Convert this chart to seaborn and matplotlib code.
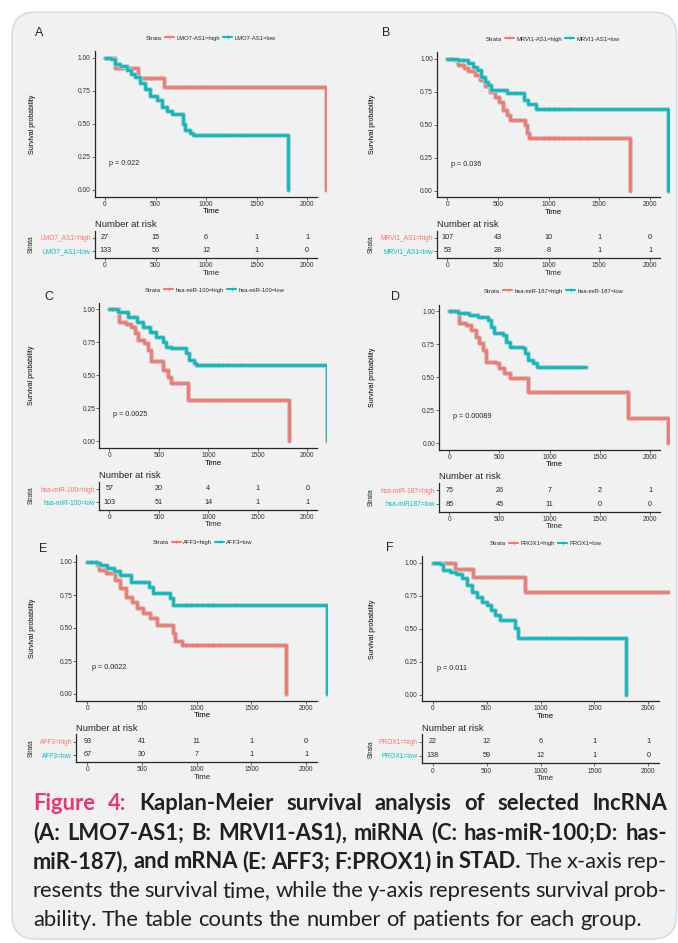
import matplotlib
matplotlib.use("Agg")
import numpy as np
import pandas as pd
import matplotlib.pyplot as plt
import seaborn as sns
from matplotlib.lines import Line2D
from matplotlib.patches import FancyBboxPatch
from matplotlib.transforms import IdentityTransform
import matplotlib.patheffects as pe

# ---- data ----
time_breaks = [0, 500, 1000, 1500, 2000]

# A: LMO7-AS1
a_hi_t = [0, 100, 330, 585, 2190]
a_hi_s = [1.0, 0.92, 0.85, 0.78, 0.0]
a_lo_t = [0, 60, 100, 150, 215, 260, 300, 350, 400, 445, 510, 560, 610, 660, 770, 790, 840, 875, 1810]
a_lo_s = [1.0, 0.99, 0.955, 0.935, 0.91, 0.88, 0.855, 0.81, 0.76, 0.71, 0.68, 0.63, 0.595, 0.575, 0.5, 0.45, 0.43, 0.416, 0.0]
a_hi_cens = [420, 460, 640, 700, 780, 830, 900, 940, 1000, 1040, 1100, 1220]
a_lo_cens = [20, 250, 420, 900, 950, 990, 1020, 1050, 1100, 1150, 1230, 1350]
a_hi_risk = [27, 15, 6, 1, 1]
a_lo_risk = [133, 56, 12, 1, 0]

# B: MRVI1-AS1
b_hi_t = [0, 70, 105, 160, 205, 270, 320, 370, 420, 470, 515, 550, 585, 615, 770, 790, 805, 1800]
b_hi_s = [1.0, 0.99, 0.95, 0.93, 0.91, 0.875, 0.84, 0.79, 0.75, 0.71, 0.675, 0.61, 0.57, 0.535, 0.5, 0.435, 0.397, 0.0]
b_lo_t = [0, 105, 205, 255, 290, 335, 370, 400, 435, 585, 760, 795, 880, 2180]
b_lo_s = [1.0, 0.99, 0.965, 0.94, 0.915, 0.865, 0.825, 0.8, 0.763, 0.738, 0.687, 0.66, 0.62, 0.0]
b_hi_cens = [40, 200, 300, 380, 880, 950, 1000, 1050, 1100, 1150, 1200, 1300, 1380]
b_lo_cens = [40, 150, 350, 680, 720, 950, 1000, 1050, 1100, 1200]
b_hi_risk = [107, 43, 10, 1, 0]
b_lo_risk = [53, 28, 8, 1, 1]

# C: hsa-miR-100
c_hi_t = [0, 100, 170, 220, 255, 290, 355, 390, 425, 540, 590, 625, 790, 1815]
c_hi_s = [1.0, 0.906, 0.89, 0.869, 0.82, 0.77, 0.742, 0.692, 0.605, 0.54, 0.49, 0.44, 0.31, 0.0]
c_lo_t = [0, 90, 190, 275, 340, 410, 475, 540, 575, 625, 775, 810, 860, 880, 2195]
c_lo_s = [1.0, 0.982, 0.944, 0.906, 0.869, 0.831, 0.793, 0.755, 0.717, 0.704, 0.667, 0.616, 0.596, 0.58, 0.0]
c_hi_cens = [30, 480, 960, 1050, 1150, 1200]
c_lo_cens = [30, 250, 430, 900, 940, 980, 1020, 1060, 1100, 1150, 1200, 1330]
c_hi_risk = [57, 20, 4, 1, 0]
c_lo_risk = [103, 51, 14, 1, 1]

# D: hsa-miR-187
d_hi_t = [0, 100, 170, 220, 270, 300, 335, 370, 470, 500, 550, 600, 780, 1785, 2180]
d_hi_s = [1.0, 0.909, 0.896, 0.858, 0.807, 0.757, 0.706, 0.617, 0.604, 0.568, 0.528, 0.49, 0.385, 0.193, 0.0]
d_lo_t = [0, 85, 200, 285, 385, 420, 450, 535, 570, 600, 735, 757, 785, 835, 870, 1360]
d_lo_s = [1.0, 0.985, 0.972, 0.959, 0.934, 0.883, 0.833, 0.82, 0.77, 0.731, 0.718, 0.68, 0.63, 0.605, 0.577, 0.577]
d_hi_cens = [30, 470, 660, 960, 1020, 1080, 1150, 1200]
d_lo_cens = [20, 60, 150, 330, 900, 950, 1000, 1050, 1100, 1150, 1200, 1250, 1300]
d_hi_risk = [75, 26, 7, 2, 1]
d_lo_risk = [85, 45, 11, 0, 0]

# E: AFF3
e_hi_t = [0, 85, 107, 175, 250, 300, 355, 405, 450, 510, 570, 635, 785, 800, 870, 1815]
e_hi_s = [1.0, 0.98, 0.94, 0.914, 0.864, 0.8, 0.737, 0.7, 0.649, 0.611, 0.573, 0.523, 0.46, 0.4, 0.371, 0.0]
e_lo_t = [0, 85, 120, 180, 240, 300, 400, 560, 605, 760, 785, 2190]
e_lo_s = [1.0, 0.99, 0.977, 0.955, 0.93, 0.905, 0.851, 0.813, 0.763, 0.725, 0.674, 0.0]
e_hi_cens = [180, 420, 470, 620, 710, 900, 960, 1000, 1050, 1100, 1150, 1200]
e_lo_cens = [30, 80, 450, 520, 610, 900, 950, 1000, 1050, 1100, 1150, 1350]
e_hi_risk = [93, 41, 11, 1, 0]
e_lo_risk = [67, 30, 7, 1, 1]

# F: PROX1
f_hi_t = [0, 205, 375, 860, 2190]
f_hi_s = [1.0, 0.952, 0.896, 0.782, 0.782]
f_lo_t = [0, 70, 100, 160, 220, 270, 315, 360, 410, 455, 500, 545, 580, 625, 765, 795, 1795]
f_lo_s = [1.0, 0.99, 0.947, 0.934, 0.914, 0.884, 0.833, 0.782, 0.744, 0.706, 0.681, 0.643, 0.605, 0.567, 0.504, 0.433, 0.0]
f_hi_cens = [350, 500, 630, 760, 950, 1000, 1070, 1180]
f_lo_cens = [20, 50, 250, 950, 1000, 1050, 1100, 1150, 1200, 1380]
f_hi_risk = [22, 12, 6, 1, 1]
f_lo_risk = [138, 59, 12, 1, 0]

legend_labels = [("LMO7-AS1=high", "LMO7-AS1=low"), ("MRVI1-AS1=high", "MRVI1-AS1=low"),
                 ("hsa-miR-100=high", "hsa-miR-100=low"), ("hsa-miR-187=high", "hsa-miR-187=low"),
                 ("AFF3=high", "AFF3=low"), ("PROX1=high", "PROX1=low")]
table_labels = [("LMO7_AS1=high", "LMO7_AS1=low"), ("MRVI1_AS1=high", "MRVI1_AS1=low"),
                ("hsa-miR-100=high", "hsa-miR-100=low"), ("hsa-miR-187=high", "hsa-miR187=low"),
                ("AFF3=high", "AFF3=low"), ("PROX1=high", "PROX1=low")]
p_values = ["0.022", "0.036", "0.0025", "0.00089", "0.0022", "0.011"]
letters = ["A", "B", "C", "D", "E", "F"]

caption_runs = [
    [("Figure 4:", "pink"), ("Kaplan-Meier survival analysis of selected lncRNA", "bold")],
    [("(A: LMO7-AS1; B: MRVI1-AS1), miRNA (C: has-miR-100;D: has-", "bold")],
    [("miR-187), and mRNA (E: AFF3; F:PROX1) in STAD.", "bold"), ("The x-axis rep-", "regular")],
    [("resents the survival time, while the y-axis represents survival prob-", "regular")],
    [("ability. The table counts the number of patients for each group.", "regular")],
]

# ---- layout (pixels) ----
W, H = 678, 943
RED = "#F8766D"
TEAL = "#00BFC4"
PINK = "#e8386d"
INK = "#231f20"
BG = "#f1f1f1"

# x0: pixel of t=0, k: px per day, y1/y0: pixel of surv 1/0, rh/rl: table rows
geo = [
    dict(x0=105, k=0.101, y1=57.7, y0=190, rh=237.7, rl=250.7, let=(39, 33), leg=(205, 38), ylab=32),
    dict(x0=447.3, k=0.10135, y1=58.7, y0=190.7, rh=237.7, rl=250.7, let=(386, 33), leg=(547, 39), ylab=372),
    dict(x0=109.3, k=0.099, y1=309.3, y0=441.3, rh=489, rl=502.3, let=(49, 297), leg=(209, 290), ylab=32),
    dict(x0=449.3, k=0.10035, y1=311.3, y0=443, rh=490.3, rl=504, let=(396, 297), leg=(548, 291), ylab=372),
    dict(x0=87.3, k=0.1094, y1=562, y0=694, rh=741.7, rl=755, let=(43, 549), leg=(197, 542), ylab=32),
    dict(x0=432.7, k=0.1078, y1=563, y0=694.7, rh=741.7, rl=755.7, let=(390, 548), leg=(540, 543), ylab=372),
]

curves = [
    ((a_hi_t, a_hi_s, a_hi_cens), (a_lo_t, a_lo_s, a_lo_cens), (a_hi_risk, a_lo_risk)),
    ((b_hi_t, b_hi_s, b_hi_cens), (b_lo_t, b_lo_s, b_lo_cens), (b_hi_risk, b_lo_risk)),
    ((c_hi_t, c_hi_s, c_hi_cens), (c_lo_t, c_lo_s, c_lo_cens), (c_hi_risk, c_lo_risk)),
    ((d_hi_t, d_hi_s, d_hi_cens), (d_lo_t, d_lo_s, d_lo_cens), (d_hi_risk, d_lo_risk)),
    ((e_hi_t, e_hi_s, e_hi_cens), (e_lo_t, e_lo_s, e_lo_cens), (e_hi_risk, e_lo_risk)),
    ((f_hi_t, f_hi_s, f_hi_cens), (f_lo_t, f_lo_s, f_lo_cens), (f_hi_risk, f_lo_risk)),
]

sns.set_theme(style="white")
plt.rcParams["font.family"] = ["Liberation Sans", "DejaVu Sans"]
plt.rcParams["axes.linewidth"] = 0.9

fig = plt.figure(figsize=(W / 100, H / 100), dpi=100)
fig.patch.set_facecolor("white")
card = FancyBboxPatch((12, 4), 664.5, H - 16, boxstyle="round,pad=0,rounding_size=24",
                      transform=IdentityTransform(), facecolor=BG, edgecolor="#c6dcea",
                      linewidth=1.0, zorder=-10)
fig.patches.append(card)


def px_axes(left, top, right, bottom):
    return fig.add_axes([left / W, 1 - bottom / H, (right - left) / W, (bottom - top) / H])


def step_at(ts, ss, c):
    i = np.searchsorted(ts, c, side="right") - 1
    return np.asarray(ss)[i]


halo = [pe.Stroke(linewidth=3.4, foreground="#c4c4c4"), pe.Normal()]

for i, g in enumerate(geo):
    hi, lo, risk = curves[i]
    hi_name, lo_name = legend_labels[i]
    left = g["x0"] - 100 * g["k"]
    right = g["x0"] + 2200 * g["k"]
    span = g["y0"] - g["y1"]
    ax = px_axes(left, g["y1"] - 0.05 * span, right, g["y0"] + 0.05 * span)
    ax.set_facecolor("none")

    df = pd.concat([
        pd.DataFrame({"time": hi[0], "surv": hi[1], "group": hi_name}),
        pd.DataFrame({"time": lo[0], "surv": lo[1], "group": lo_name}),
    ])
    sns.lineplot(data=df, x="time", y="surv", hue="group", palette={hi_name: RED, lo_name: TEAL},
                 drawstyle="steps-post", estimator=None, sort=False, legend=False,
                 linewidth=2.0, path_effects=halo, ax=ax)
    for (ts, ss, cens), col in [(hi, RED), (lo, TEAL)]:
        sns.scatterplot(x=cens, y=step_at(ts, ss, cens), marker="+", s=8, color=col,
                        linewidth=0.5, ax=ax, zorder=4)

    ax.set_xlim(-100, 2200)
    ax.set_ylim(-0.05, 1.05)
    ax.set_xticks(time_breaks)
    ax.set_yticks([0, 0.25, 0.5, 0.75, 1.0])
    ax.set_yticklabels(["0.00", "0.25", "0.50", "0.75", "1.00"])
    ax.tick_params(length=2, width=0.5, labelsize=4.8, pad=1, colors="#333333", left=True, bottom=True)
    sns.despine(ax=ax)
    ax.spines["bottom"].set_bounds(-100, 2100)
    ax.set_xlabel("Time", fontsize=5.6, labelpad=0.5, color="black")
    ax.set_ylabel("Survival probability", fontsize=5, color="black")
    ax.yaxis.set_label_coords((g["ylab"] + 3.5 - left) / (right - left), 0.5)
    ax.text(40, 0.2, f"p = {p_values[i]}", fontsize=5.2, va="center", ha="left")

    handles = [Line2D([], [], color="none"),
               Line2D([], [], color=RED, lw=1.5, marker="+", ms=3, mew=0.5),
               Line2D([], [], color=TEAL, lw=1.5, marker="+", ms=3, mew=0.5)]
    fig.legend(handles, ["Strata", hi_name, lo_name], ncol=3, loc="center",
               bbox_to_anchor=(g["leg"][0] / W, 1 - g["leg"][1] / H), bbox_transform=fig.transFigure,
               frameon=False, fontsize=4.2, handlelength=1.5, handletextpad=0.4, columnspacing=0.6)

    fig.text(g["let"][0] / W, 1 - g["let"][1] / H, letters[i], fontsize=9, ha="center", va="center")

    # risk table
    d = g["rl"] - g["rh"]
    axt = px_axes(left, g["rh"] - 0.55 * d, right, g["rl"] + 0.55 * d)
    axt.set_facecolor("none")
    axt.set_xlim(-100, 2200)
    axt.set_ylim(-0.55, 1.55)
    for row, counts in [(1, risk[0]), (0, risk[1])]:
        for t, n in zip(time_breaks, counts):
            axt.text(t, row, str(n), ha="center", va="center", fontsize=5.2)
    axt.set_xticks(time_breaks)
    axt.set_yticks([0, 1])
    axt.set_yticklabels([table_labels[i][1], table_labels[i][0]])
    axt.tick_params(length=2, width=0.5, labelsize=4.8, pad=1, colors="#333333", left=True, bottom=True)
    for tl, col in zip(axt.get_yticklabels(), [TEAL, RED]):
        tl.set_color(col)
    sns.despine(ax=axt)
    axt.spines["bottom"].set_bounds(-100, 2100)
    axt.set_xlabel("Time", fontsize=5.6, labelpad=0.5)
    axt.set_ylabel("Strata", fontsize=4.8)
    axt.yaxis.set_label_coords((g["ylab"] + 3 - left) / (right - left), 0.5)
    axt.set_title("Number at risk", loc="left", fontsize=6.8, pad=2.5)

# ---- caption, justified ----
cap_font = ["Lato", "DejaVu Sans"]
renderer = fig.canvas.get_renderer()
styles = {"pink": (PINK, "bold"), "bold": (INK, "bold"), "regular": (INK, "normal")}


def width_of(s, weight, size):
    t = fig.text(0, 0, s, fontsize=size, fontweight=weight, family=cap_font)
    w = t.get_window_extent(renderer).width
    t.remove()
    return w


probe = width_of(caption_runs[4][0][0], "normal", 10)
fs = 10 * 612 / probe
space = width_of("a a", "normal", fs) - width_of("aa", "normal", fs)

x_left, x_right = 33, 667
line_y = [803, 833, 862, 891, 920]
for li, runs in enumerate(caption_runs):
    words = []
    for txt, st in runs:
        for w in txt.split(" "):
            words.append((w, st))
    texts = []
    for w, st in words:
        col, wt = styles[st]
        texts.append(fig.text(0, 1 - line_y[li] / H, w, fontsize=fs, fontweight=wt, color=col,
                              family=cap_font, ha="left", va="center"))
    widths = [t.get_window_extent(renderer).width for t in texts]
    if li < len(caption_runs) - 1:
        gap = (x_right - x_left - sum(widths)) / (len(texts) - 1)
    else:
        gap = space
    x = x_left
    for t, w in zip(texts, widths):
        t.set_x(x / W)
        x += w + gap

fig.savefig("out.png", dpi=100, facecolor="white")
